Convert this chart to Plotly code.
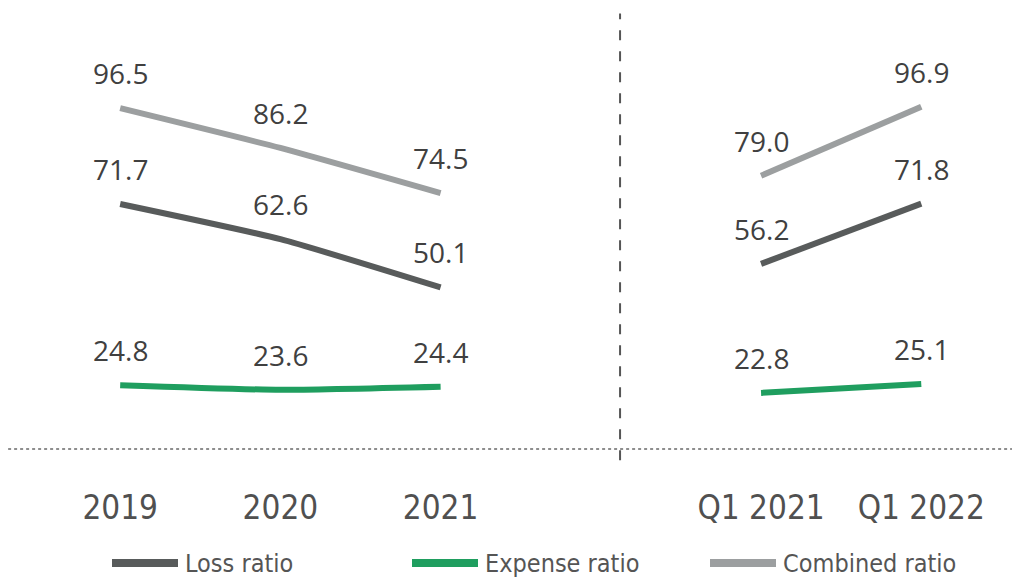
import plotly.graph_objects as go

# ---- data ----
years = ["2019", "2020", "2021"]
quarters = ["Q1 2021", "Q1 2022"]
gap_cat = " "

loss_annual = [71.7, 62.6, 50.1]
expense_annual = [24.8, 23.6, 24.4]
combined_annual = [96.5, 86.2, 74.5]

loss_q = [56.2, 71.8]
expense_q = [22.8, 25.1]
combined_q = [79.0, 96.9]

series_names = ["Loss ratio", "Expense ratio", "Combined ratio"]
colors = ["#585b5b", "#1f9e5f", "#9c9fa0"]

annual = [loss_annual, expense_annual, combined_annual]
quarterly = [loss_q, expense_q, combined_q]

categories = years + [gap_cat] + quarters

TEXT = "#404040"
NARROW = "DejaVu Sans Condensed, Liberation Sans Narrow, sans-serif"
LABEL_FONT = "Open Sans, Segoe UI, sans-serif"

fig = go.Figure()
annotations = []

for name, col, ya, yq in zip(series_names, colors, annual, quarterly):
    for xs, ys in ((years, ya), (quarters, yq)):
        fig.add_trace(go.Scatter(
            x=xs, y=ys, mode="lines", name=name, showlegend=False,
            line=dict(color=col, width=6, shape="spline", smoothing=0.5),
            hoverinfo="x+y+name",
        ))
        for xv, yv in zip(xs, ys):
            annotations.append(dict(
                x=categories.index(xv), y=yv, xref="x", yref="y", text=f"{yv:.1f}",
                showarrow=False, yshift=35, yanchor="middle", xanchor="center",
                font=dict(family=LABEL_FONT, size=28, color=TEXT),
            ))

shapes = [
    # dotted baseline
    dict(type="line", xref="paper", yref="y", x0=0.008, x1=0.997, y0=8.3, y1=8.3,
         line=dict(color="#6a6a6a", width=1.5, dash="dot")),
    # dashed divider
    dict(type="line", xref="x", yref="y", x0=3.12, x1=3.12, y0=5.4, y1=121.0,
         line=dict(color="#555555", width=2, dash="10px,11px")),
]

# custom legend
legend_x = [112, 412, 710]
legend_y = -(563 - 481) / 481
for name, col, lx in zip(series_names, colors, legend_x):
    shapes.append(dict(type="line", xref="paper", yref="paper",
                       x0=lx / 1015, x1=(lx + 66) / 1015,
                       y0=legend_y, y1=legend_y,
                       line=dict(color=col, width=8)))
    annotations.append(dict(
        x=(lx + 71) / 1015, y=legend_y, xref="paper", yref="paper",
        text=name, showarrow=False, xanchor="left", yanchor="middle",
        font=dict(family=NARROW, size=25, color="#555555"),
    ))

fig.update_layout(
    width=1015, height=579,
    margin=dict(l=0, r=0, t=0, b=98, autoexpand=False),
    paper_bgcolor="white", plot_bgcolor="white",
    showlegend=False,
    xaxis=dict(
        type="category", categoryorder="array", categoryarray=categories,
        range=[-0.75, 5.585], showgrid=False, zeroline=False, showline=False,
        automargin=False, ticklabelstandoff=4,
        ticks="", tickfont=dict(family=NARROW, size=33, color="#505050"),
        tickvals=years + quarters, ticktext=years + quarters,
    ),
    yaxis=dict(range=[0, 124.5], visible=False, showgrid=False, zeroline=False,
               automargin=False),
    shapes=shapes,
    annotations=annotations,
)

fig.write_html("out.html", config={"displayModeBar": False},
               post_script="document.body.style.margin='0';document.body.style.overflow='hidden';")
